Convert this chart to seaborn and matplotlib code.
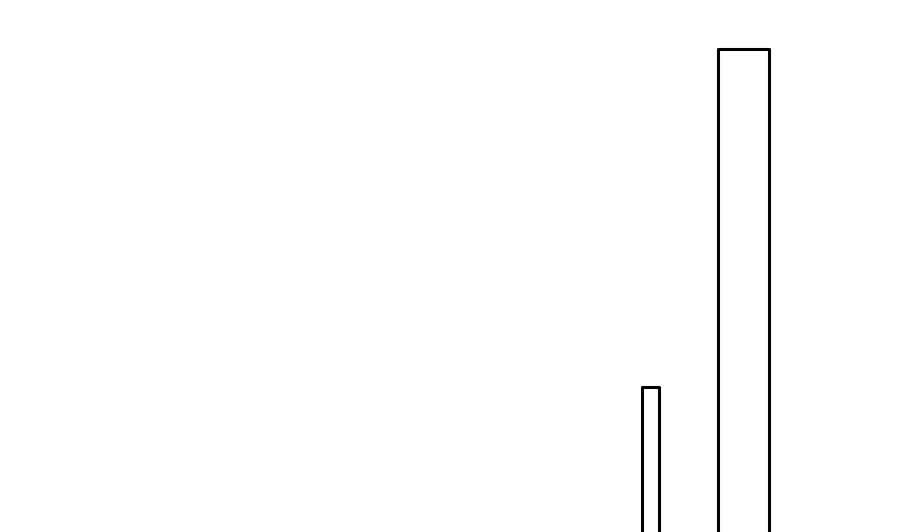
import matplotlib
matplotlib.use("Agg")
import matplotlib.pyplot as plt
import seaborn as sns

# bin edges of the two bars (the gap between them is an empty bin)
bin_edges = [64.17, 65.9, 71.77, 76.9]
bar_centers = [65.03, 74.33]
bar_heights = [147.5, 485.5]

sns.set_style("white")

fig = plt.figure(figsize=(9, 5.32), dpi=100)
ax = fig.add_axes([0, 0, 1, 1])

sns.histplot(x=bar_centers, weights=bar_heights, bins=bin_edges,
             element="bars", fill=False, color="black",
             linewidth=2.2, ax=ax)

for p in ax.patches:
    p.set_joinstyle("round")
    p.set_edgecolor("black")

ax.set_xlim(0, 90)
ax.set_ylim(2, 534)
ax.axis("off")

fig.savefig("out.png", dpi=100)
